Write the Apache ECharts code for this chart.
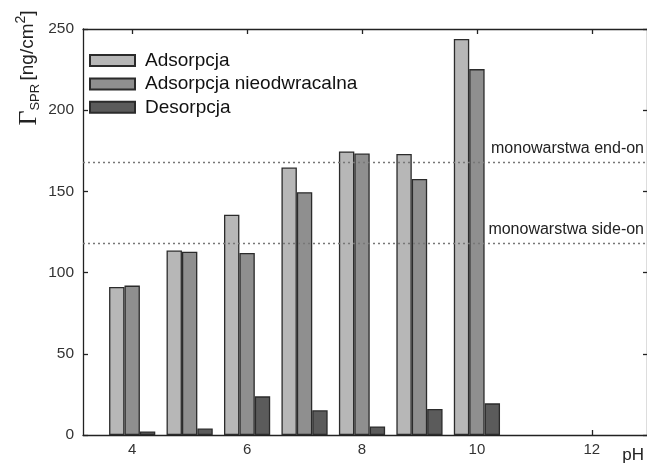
<!DOCTYPE html>
<html>
<head>
<meta charset="utf-8">
<script src="https://cdn.jsdelivr.net/npm/echarts@6/dist/echarts.min.js"></script>
<style>
	html, body { margin: 0; padding: 0; background: #fff; }
	#chart { width: 647px; height: 465px; }
</style>
</head>
<body>
<div id="chart"></div>
<script>
// pH values and measured surface concentrations [ng/cm2]
var phValues = [4, 5, 6, 7, 8, 9, 10];
var adsorpcja = [91.2, 113.6, 135.6, 164.7, 174.6, 173.1, 243.8];
var adsorpcjaNieodwracalna = [92, 112.8, 112.1, 149.5, 173.3, 157.7, 225.3];
var desorpcja = [2.2, 4, 23.8, 15.2, 5.3, 16, 19.5];

var xTicks = [4, 6, 8, 10, 12];
var yTicks = [0, 50, 100, 150, 200, 250];

// reference monolayer levels
var endOn = 168;
var sideOn = 118;

var font = 'Liberation Sans, Arial, sans-serif';

function pairs(values) {
	return phValues.map(function (ph, i) { return [ph, values[i]]; });
}

function barSeries(name, values, color) {
	return {
		name: name,
		type: 'bar',
		barWidth: 15.4,
		barGap: '0%',
		data: pairs(values),
		itemStyle: { color: color, borderColor: '#2b2b2b', borderWidth: 1.3 }
	};
}

var chart = echarts.init(document.getElementById('chart'));

var axisLine = { show: true, onZero: false, lineStyle: { color: '#222', width: 1.3 } };
var axisTick = { show: true, inside: true, length: 5, lineStyle: { color: '#222', width: 1.3 } };

var series = [
	barSeries('Adsorpcja', adsorpcja, '#b7b7b7'),
	barSeries('Adsorpcja nieodwracalna', adsorpcjaNieodwracalna, '#8f8f8f'),
	barSeries('Desorpcja', desorpcja, '#5b5b5b')
];

// dotted monolayer lines go on the first series
series[0].markLine = {
	silent: true,
	symbol: ['none', 'none'],
	lineStyle: { type: [2, 3], color: '#777', width: 1.3 },
	label: {
		position: 'insideEndTop',
		fontFamily: font,
		fontSize: 16,
		color: '#222',
		distance: [3, 6]
	},
	data: [
		{ yAxis: endOn, label: { formatter: 'monowarstwa end-on' } },
		{ yAxis: sideOn, label: { formatter: 'monowarstwa side-on' } }
	]
};

chart.setOption({
	animation: false,
	backgroundColor: '#fff',
	grid: { left: 83, right: 0, top: 29, bottom: 30 },
	legend: {
		orient: 'vertical',
		left: 89,
		top: 51,
		padding: 0,
		itemWidth: 45,
		itemHeight: 11,
		itemGap: 4.4,
		icon: 'rect',
		textStyle: { fontFamily: font, fontSize: 19, color: '#111', padding: [0, 0, 0, 5] },
		data: ['Adsorpcja', 'Adsorpcja nieodwracalna', 'Desorpcja']
	},
	xAxis: [{
		type: 'value',
		min: 3.144,
		max: 12.96,
		position: 'bottom',
		splitLine: { show: false },
		axisLine: axisLine,
		axisTick: Object.assign({ customValues: xTicks }, axisTick),
		axisLabel: { customValues: xTicks, margin: 7, fontFamily: font, fontSize: 15, color: '#333' }
	}, {
		type: 'value',
		min: 3.144,
		max: 12.96,
		position: 'top',
		splitLine: { show: false },
		axisLine: axisLine,
		axisTick: Object.assign({ customValues: xTicks }, axisTick),
		axisLabel: { show: false }
	}],
	yAxis: [{
		type: 'value',
		min: 0,
		max: 250,
		interval: 50,
		splitLine: { show: false },
		axisLine: axisLine,
		axisTick: axisTick,
		axisLabel: { margin: 9, fontFamily: font, fontSize: 15.5, color: '#333' }
	}, {
		type: 'value',
		min: 0,
		max: 250,
		interval: 50,
		position: 'right',
		splitLine: { show: false },
		axisLine: axisLine,
		axisTick: Object.assign({}, axisTick, { length: 4 }),
		axisLabel: { show: false }
	}],
	graphic: [{
		type: 'text',
		x: 28,
		y: 68,
		rotation: Math.PI / 2,
		style: {
			text: '{g|Γ}{s|SPR} {t|[ng/cm}{p|2}{t|]}',
			align: 'center',
			verticalAlign: 'middle',
			fill: '#222',
			rich: {
				g: { fontFamily: 'Liberation Serif, serif', fontSize: 26, lineHeight: 28, verticalAlign: 'bottom', fill: '#222' },
				s: { fontFamily: font, fontSize: 13, verticalAlign: 'bottom', fill: '#222' },
				t: { fontFamily: font, fontSize: 19, verticalAlign: 'middle', fill: '#222' },
				p: { fontFamily: font, fontSize: 14, verticalAlign: 'top', fill: '#222' }
			}
		}
	}, {
		type: 'text',
		right: 3,
		bottom: 1,
		style: { text: 'pH', fontFamily: font, fontSize: 17, fill: '#222' }
	}],
	series: series
});

window.addEventListener('resize', function () { chart.resize(); });
</script>
</body>
</html>
